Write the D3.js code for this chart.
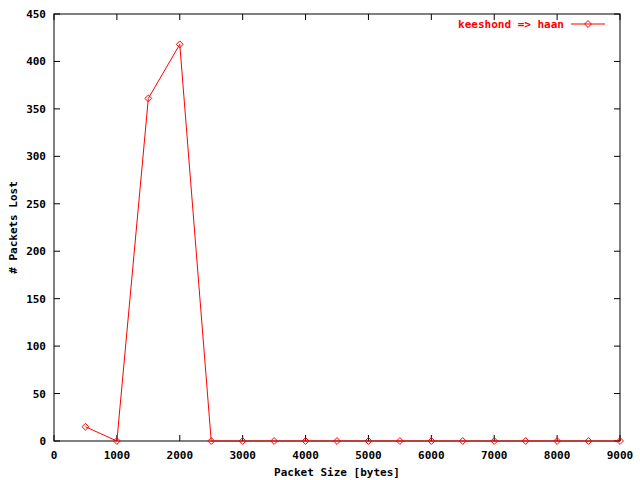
<!DOCTYPE html><html><head><script src="https://cdn.jsdelivr.net/npm/d3@7"></script>
<style>body{margin:0;background:#fff}text{font-family:"DejaVu Sans Mono",monospace;font-weight:bold;font-size:11px}</style></head><body>
<svg width="640" height="480"></svg>
<script>
const sizes=[500,1000,1500,2000,2500,3000,3500,4000,4500,5000,5500,6000,6500,7000,7500,8000,8500,9000];
const lost=[15,0,361,418,0,0,0,0,0,0,0,0,0,0,0,0,0,0];
const xTicks=[0,1000,2000,3000,4000,5000,6000,7000,8000,9000];
const yTicks=[0,50,100,150,200,250,300,350,400,450];
const svg=d3.select("svg");
const L=54,R=620,T=14,B=441;
const x=d3.scaleLinear().domain([0,9000]).range([L,R]);
const y=d3.scaleLinear().domain([0,450]).range([B,T]);
svg.append("rect").attr("x",L).attr("y",T).attr("width",R-L).attr("height",B-T).attr("fill","none").attr("stroke","#000");
const gx=svg.append("g");
xTicks.forEach(t=>{gx.append("line").attr("x1",x(t)).attr("x2",x(t)).attr("y1",B).attr("y2",B-6).attr("stroke","#000");
gx.append("line").attr("x1",x(t)).attr("x2",x(t)).attr("y1",T).attr("y2",T+6).attr("stroke","#000");
gx.append("text").attr("x",x(t)).attr("y",B+18).attr("text-anchor","middle").text(t);});
yTicks.forEach(t=>{gx.append("line").attr("x1",L).attr("x2",L+6).attr("y1",y(t)).attr("y2",y(t)).attr("stroke","#000");
gx.append("line").attr("x1",R).attr("x2",R-6).attr("y1",y(t)).attr("y2",y(t)).attr("stroke","#000");
gx.append("text").attr("x",L-8).attr("y",y(t)+4).attr("text-anchor","end").text(t);});
svg.append("text").attr("x",(L+R)/2).attr("y",476).attr("text-anchor","middle").text("Packet Size [bytes]");
svg.append("text").attr("transform",`translate(17,${(T+B)/2}) rotate(-90)`).attr("text-anchor","middle").text("# Packets Lost");
const data=sizes.map((s,i)=>[s,lost[i]]);
svg.append("path").datum(data).attr("d",d3.line().x(d=>x(d[0])).y(d=>y(d[1]))).attr("fill","none").attr("stroke","red");
const sym=d3.symbol().type(d3.symbolDiamond2).size(30);
svg.selectAll(".pt").data(data).join("path").attr("transform",d=>`translate(${x(d[0])},${y(d[1])})`).attr("d",sym).attr("fill","none").attr("stroke","red");
svg.append("text").attr("x",564).attr("y",28).attr("text-anchor","end").attr("fill","red").text("keeshond => haan");
svg.append("line").attr("x1",571).attr("x2",605).attr("y1",24).attr("y2",24).attr("stroke","red");
svg.append("path").attr("transform","translate(588,24)").attr("d",sym).attr("fill","none").attr("stroke","red");
</script></body></html>
